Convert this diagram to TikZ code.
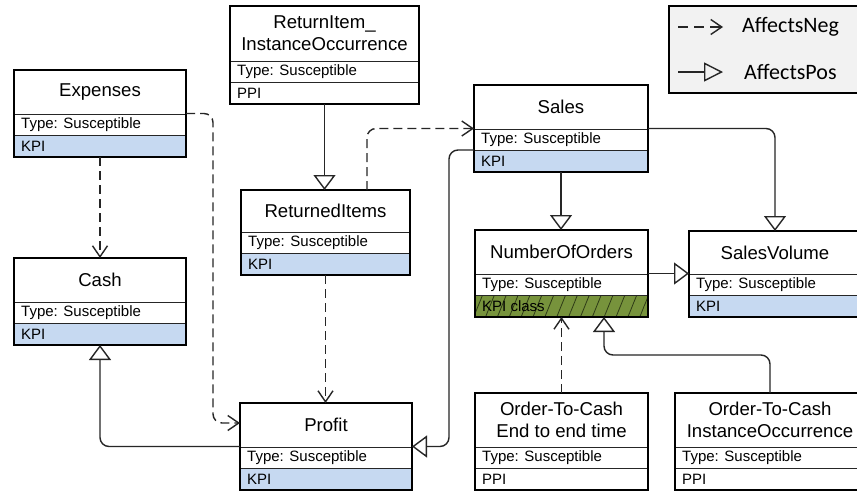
\documentclass[tikz,border=0pt]{standalone}
\usepackage{fontspec}
\setmainfont{Liberation Sans}
\newfontfamily\legendfont{Carlito}
\usetikzlibrary{arrows.meta,calc,patterns.meta}

\definecolor{kpiblue}{HTML}{C6D9F1}
\definecolor{kpigreen}{HTML}{77933C}
\definecolor{hatchdark}{HTML}{2E3B17}
\definecolor{legendgray}{HTML}{F2F2F2}
\definecolor{wire}{HTML}{262626}

\tikzset{
  frame/.style={draw=black, line width=2.7pt},
  rowline/.style={draw=black!85, line width=1pt},
  titletext/.style={font=\fontsize{18.6}{22}\selectfont, align=center, inner sep=0pt},
  rowtext/.style={font=\fontsize{15}{17}\selectfont, inner sep=0pt, anchor=west},
  kpirow/.style={fill=kpiblue},
  plainrow/.style={fill=white},
  classrow/.style={fill=kpigreen,
    postaction={pattern={Lines[angle=68,distance=11pt,line width=0.8pt]}, pattern color=hatchdark}},
  link/.style={draw=wire, line width=1.4pt, rounded corners=9pt},
  barb/.style={-{Straight Barb[length=11pt,width=15pt]}},
  negrel/.style={link, dash pattern=on 9pt off 5pt, barb},
  posrel/.style={link, -{Triangle[open,length=15pt,width=22pt,fill=white]}},
}

% class box: name, left, top, width, title height, title, type row, kind row, kind row style
\newcommand\umlclass[9]{%
  \node[anchor=north west, inner sep=0pt, outer sep=0pt, fill=white,
        minimum width=#4pt, minimum height={(#5+43)*1pt}] (#1) at (#2,#3) {};
  \path[#9] ([yshift=21.5pt]#1.south west) rectangle (#1.south east);
  \draw[rowline] ([yshift=21.5pt]#1.south west) -- ([yshift=21.5pt]#1.south east);
  \draw[rowline] ([yshift=43pt]#1.south west) -- ([yshift=43pt]#1.south east);
  \node[titletext] (#1-title) at ({#2+#4/2},{#3+#5/2}) {#6};
  \node[rowtext] (#1-type) at ([xshift=7pt,yshift=32.25pt]#1.south west) {#7};
  \node[rowtext] (#1-kind) at ([xshift=7pt,yshift=10.75pt]#1.south west) {#8};
  \draw[frame] (#1.north west) rectangle (#1.south east);
}

\begin{document}
\begin{tikzpicture}[x=1pt,y=-1pt]
\useasboundingbox (0,0) rectangle (857,491);
\fill[white] (0,0) rectangle (857,491);

% legend
\node[draw=black, line width=2.2pt, fill=legendgray, anchor=north west, inner sep=0pt,
      minimum width=200pt, minimum height=87pt] (legend) at (668,5) {};
\node[font=\legendfont\fontsize{22}{26}\selectfont, anchor=west, inner sep=0pt] (negtext) at (742,27) {AffectsNeg};
\node[font=\legendfont\fontsize{22}{26}\selectfont, anchor=west, inner sep=0pt] (postext) at (744,72) {AffectsPos};
\coordinate (negA) at (678,27);
\coordinate (negB) at (723,27);
\coordinate (posA) at (678,72);
\coordinate (posB) at (723,72);
\draw[link, dash pattern=on 10pt off 6pt, barb] (negA) -- (negB);
\draw[link, -{Triangle[open,length=19pt,width=19pt,fill=legendgray]}] (posA) -- (posB);

% classes
\umlclass{exp}{14}{70}{172}{44}{Expenses}{Type: Susceptible}{KPI}{kpirow}
\umlclass{rii}{230}{6}{189}{55}{ReturnItem\_\\InstanceOccurrence}{Type: Susceptible}{PPI}{plainrow}
\umlclass{ret}{241}{190}{169}{42}{ReturnedItems}{Type: Susceptible}{KPI}{kpirow}
\umlclass{cash}{14}{258}{172}{44}{Cash}{Type: Susceptible}{KPI}{kpirow}
\umlclass{profit}{240}{403}{172}{44}{Profit}{Type: Susceptible}{KPI}{kpirow}
\umlclass{sales}{474}{85}{174}{44}{Sales}{Type: Susceptible}{KPI}{kpirow}
\umlclass{noo}{475}{230}{173}{44}{NumberOfOrders}{Type: Susceptible}{KPI class}{classrow}
\umlclass{sv}{689}{231}{172}{43}{SalesVolume}{Type: Susceptible}{KPI}{kpirow}
\umlclass{e2e}{475}{393}{173}{54}{Order-To-Cash\\End to end time}{Type: Susceptible}{PPI}{plainrow}
\umlclass{o2c}{675}{393}{190}{54}{Order-To-Cash\\InstanceOccurrence}{Type: Susceptible}{PPI}{plainrow}

% relations
\draw[posrel] (rii.south) -- (rii.south |- ret.north);
\draw[negrel] (exp.south) -- (exp.south |- cash.north);
\draw[negrel] (exp.east) -| ([xshift=-27pt,yshift=23.5pt]profit.west) -- ([yshift=23.5pt]profit.west);
\draw[negrel] (ret.south) -- (ret.south |- profit.north);
\draw[negrel] ([xshift=41.5pt]ret.north) |- (sales.west);
\draw[posrel] (sales.east) -| (sv.north);
\draw[posrel] (sales.south) -- (sales.south |- noo.north);
\draw[posrel] ([yshift=-21.5pt]sales.west) -- ++(-25,0) |- (profit.east);
\draw[posrel] (profit.west) -| (cash.south);
\draw[posrel] (noo.east) -- (noo.east -| sv.west);
\draw[negrel] (e2e.north) -- (e2e.north |- noo.south);
\draw[posrel] (o2c.north) -- ++(0,-38) -| ([xshift=42.5pt]noo.south);
\end{tikzpicture}
\end{document}
